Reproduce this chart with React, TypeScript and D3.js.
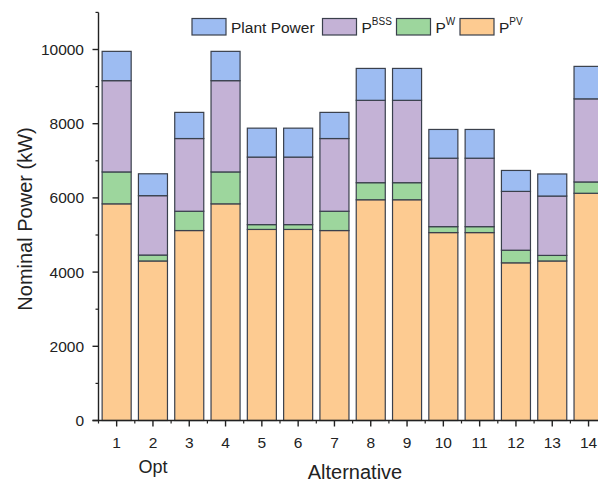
import React from 'react';
import * as d3 from 'd3';

const alternatives = [1, 2, 3, 4, 5, 6, 7, 8, 9, 10, 11, 12, 13, 14];
const xLabels = ['1', '2', '3', '4', '5', '6', '7', '8', '9', '10', '11', '12', '13', '14'];
const pPV = [5840, 4300, 5120, 5840, 5150, 5150, 5120, 5950, 5950, 5065, 5065, 4250, 4300, 6125];
const pW = [860, 160, 520, 860, 130, 130, 520, 460, 460, 160, 160, 340, 150, 305];
const pBSS = [2460, 1600, 1960, 2460, 1820, 1820, 1960, 2220, 2220, 1845, 1845, 1585, 1600, 2240];
const plantPower = [790, 590, 705, 790, 780, 780, 705, 860, 860, 775, 775, 565, 595, 875];
const yMajorTicks = [0, 2000, 4000, 6000, 8000, 10000];
const yMinorTicks = [1000, 3000, 5000, 7000, 9000, 11000];

const keys = ['pv', 'w', 'bss', 'plant'];
const colors: Record<string, string> = {
  pv: '#FDCB91',
  w: '#9DD69D',
  bss: '#C4B2D6',
  plant: '#9DBCF2',
};

const W = 598;
const H = 484;
const FONT = '"Liberation Sans", Arial, sans-serif';
const STROKE = '#3a404c';

export default function App() {
  const table = alternatives.map((a, i) => ({
    alt: a,
    pv: pPV[i],
    w: pW[i],
    bss: pBSS[i],
    plant: plantPower[i],
  }));
  const stacked = d3.stack<any>().keys(keys)(table);

  const x = d3.scaleLinear().domain([0.5, 14.5]).range([98.5, 98.5 + 14 * 36.3]);
  const y = d3.scaleLinear().domain([0, 11000]).range([420.5, 12.4]);
  const bw = x(1.3) - x(0.5);

  const halfTicks = d3.range(0, 15).map((i) => i + 0.5);

  const legend = [
    { key: 'plant', x: 192, label: 'Plant Power', sup: '' },
    { key: 'bss', x: 322.5, label: 'P', sup: 'BSS' },
    { key: 'w', x: 396.5, label: 'P', sup: 'W' },
    { key: 'pv', x: 460, label: 'P', sup: 'PV' },
  ];

  return (
    <svg
      width={W}
      height={H}
      style={{ position: 'absolute', left: 0, top: 0, background: '#fff' }}
      fontFamily={FONT}
    >
      <rect x={0} y={0} width={W} height={H} fill="#fff" />
      {/* bars */}
      {stacked.map((s) => (
        <g key={s.key}>
          {s.map((d, i) => (
            <rect
              key={i}
              x={x(alternatives[i]) - bw / 2}
              y={y(d[1])}
              width={bw}
              height={y(d[0]) - y(d[1])}
              fill={colors[s.key]}
              stroke={STROKE}
              strokeWidth={1.2}
            />
          ))}
        </g>
      ))}
      {/* y axis */}
      <line x1={x(0.5)} x2={x(0.5)} y1={y(11000)} y2={y(0)} stroke="#222" strokeWidth={1.4} />
      {yMajorTicks.map((t) => (
        <g key={'ym' + t}>
          <line x1={x(0.5) - 6} x2={x(0.5)} y1={y(t)} y2={y(t)} stroke="#222" strokeWidth={1.4} />
          <text x={84} y={y(t)} dy="0.35em" textAnchor="end" fontSize={15.5} fill="#222">
            {t}
          </text>
        </g>
      ))}
      {yMinorTicks.map((t) => (
        <line key={'yn' + t} x1={x(0.5) - 3} x2={x(0.5)} y1={y(t)} y2={y(t)} stroke="#222" strokeWidth={1.2} />
      ))}
      {/* x axis */}
      <line x1={x(0.5) - 6} x2={x(14.5) + 2} y1={y(0)} y2={y(0)} stroke="#222" strokeWidth={1.4} />
      {alternatives.map((a, i) => (
        <g key={'xm' + a}>
          <line x1={x(a)} x2={x(a)} y1={y(0)} y2={y(0) + 6} stroke="#222" strokeWidth={1.4} />
          <text x={x(a)} y={447.5} textAnchor="middle" fontSize={15.5} fill="#222">
            {xLabels[i]}
          </text>
        </g>
      ))}
      {halfTicks.map((t) => (
        <line key={'xn' + t} x1={x(t)} x2={x(t)} y1={y(0)} y2={y(0) + 3} stroke="#222" strokeWidth={1.2} />
      ))}
      <text x={x(2)} y={473} textAnchor="middle" fontSize={18} fill="#222">
        Opt
      </text>
      <text x={355} y={479} textAnchor="middle" fontSize={20} fill="#222">
        Alternative
      </text>
      <text
        transform={`translate(32, ${219}) rotate(-90)`}
        textAnchor="middle"
        fontSize={20}
        fill="#222"
      >
        Nominal Power (kW)
      </text>
      {/* legend */}
      {legend.map((l) => (
        <g key={'lg' + l.key}>
          <rect x={l.x} y={18.5} width={34} height={16.5} fill={colors[l.key]} stroke={STROKE} strokeWidth={1.2} />
          <text x={l.x + 39} y={33} fontSize={15.5} fill="#222">
            {l.label}
            {l.sup ? (
              <tspan dy={-8} fontSize={10}>
                {l.sup}
              </tspan>
            ) : null}
          </text>
        </g>
      ))}
    </svg>
  );
}
